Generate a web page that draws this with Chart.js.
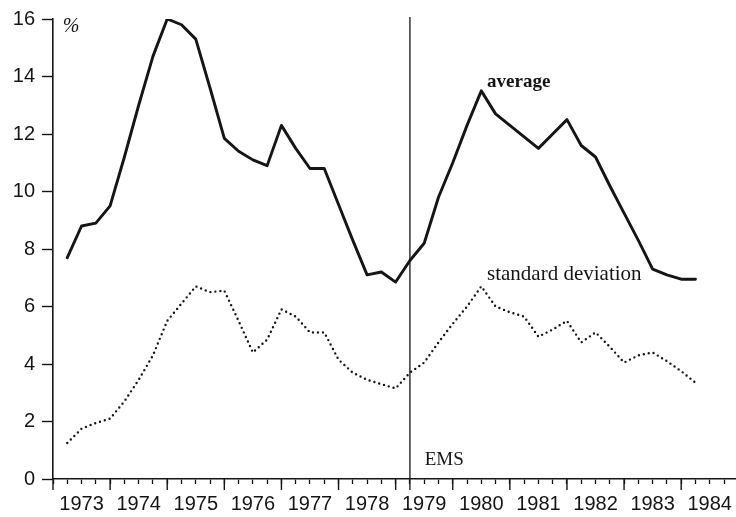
<!DOCTYPE html>
<html>
<head>
<meta charset="utf-8">
<script src="https://cdn.jsdelivr.net/npm/chart.js@4.4.1/dist/chart.umd.min.js"></script>
<style>
html,body{margin:0;padding:0;background:#fff}
#wrap{width:736px;height:517px;position:relative}
</style>
</head>
<body>
<div id="wrap"><canvas id="chart"></canvas></div>
<script>
// ═══ DATA: quarterly figures, 1973 Q1 .. 1984 Q1 (end of quarter) ═══
const firstYear=1973;
const yearLabels=['1973','1974','1975','1976','1977','1978','1979','1980','1981','1982','1983','1984'];
const averageVals=[
  7.7, 8.8, 8.9, 9.5,      // 1973
  11.2,13.0,14.7,16.0,     // 1974
  15.8,15.3,13.6,11.85,    // 1975
  11.4,11.1,10.9,12.3,     // 1976
  11.5,10.8,10.8,9.55,     // 1977
  8.3, 7.1, 7.2, 6.85,     // 1978
  7.6, 8.2, 9.8, 11.0,     // 1979
  12.3,13.5,12.7,12.3,     // 1980
  11.9,11.5,12.0,12.5,     // 1981
  11.6,11.2,10.2,9.25,     // 1982
  8.3, 7.3, 7.1, 6.95,     // 1983
  6.95                     // 1984
];
const stdDevVals=[
  1.25,1.75,1.95,2.1,
  2.7, 3.45,4.3, 5.5,
  6.1, 6.7, 6.5, 6.55,
  5.5, 4.4, 4.85,5.9,
  5.65,5.1, 5.1, 4.15,
  3.7, 3.45,3.3, 3.15,
  3.7, 4.05,4.75,5.4,
  6.0, 6.7, 6.0, 5.8,
  5.65,4.95,5.2, 5.5,
  4.75,5.1, 4.6, 4.05,
  4.3, 4.4, 4.1, 3.75,
  3.35
];
const yTicks=[0,2,4,6,8,10,12,14,16];
const emsDate=1979.25;   // start of the EMS, March 1979

// x position of each quarter = year + quarter/4 (end of quarter)
const quarterX=averageVals.map((_,i)=>firstYear+(i+1)/4);
const quarterTicks=[];
for(let q=0;q<yearLabels.length*4;q++) quarterTicks.push(firstYear+q/4);

const INK='#151515';
const notes=[
  {text:'%',x:1973.17,y:15.55,font:'italic 20px "Liberation Serif"'},
  {text:'average',x:1980.6,y:13.62,font:'bold 19px "Liberation Serif"'},
  {text:'standard deviation',x:1980.6,y:6.93,font:'21px "Liberation Serif"'},
  {text:'EMS',x:1979.51,y:0.47,font:'19px "Liberation Serif"'}
];

// ═══ extra drawing: long year ticks, EMS line, text notes ═══
const decor={
  id:'decor',
  afterDraw(chart){
    const {ctx,chartArea:a}=chart;
    const x=chart.scales.x,y=chart.scales.y;
    ctx.save();
    ctx.strokeStyle=INK;ctx.lineWidth=1.4;
    for(let yr=firstYear;yr<=firstYear+yearLabels.length;yr++){
      const px=x.getPixelForValue(yr);
      if(px>a.right+1) continue;
      ctx.beginPath();ctx.moveTo(px,a.bottom);ctx.lineTo(px,a.bottom+11);ctx.stroke();
    }
    const ex=x.getPixelForValue(emsDate);
    ctx.lineWidth=1.3;
    ctx.beginPath();ctx.moveTo(ex,y.getPixelForValue(16)-2);ctx.lineTo(ex,a.bottom+11);ctx.stroke();
    ctx.fillStyle=INK;ctx.textAlign='left';ctx.textBaseline='alphabetic';
    notes.forEach(n=>{ctx.font=n.font;ctx.fillText(n.text,x.getPixelForValue(n.x),y.getPixelForValue(n.y));});
    ctx.restore();
  }
};

new Chart(document.getElementById('chart').getContext('2d'),{
  type:'line',
  data:{
    datasets:[
      {label:'average',data:averageVals.map((v,i)=>({x:quarterX[i],y:v})),
       borderColor:INK,borderWidth:2.9,pointRadius:0,tension:0,borderJoinStyle:'round',borderCapStyle:'round'},
      {label:'standard deviation',data:stdDevVals.map((v,i)=>({x:quarterX[i],y:v})),
       borderColor:INK,borderWidth:2.4,borderDash:[0,5],borderCapStyle:'round',pointRadius:0,tension:0}
    ]
  },
  options:{
    responsive:true,maintainAspectRatio:false,animation:false,
    layout:{padding:{top:15,left:0,right:0,bottom:0}},
    plugins:{legend:{display:false},tooltip:{enabled:false}},
    scales:{
      x:{
        type:'linear',min:firstYear,max:1984.96,
        afterBuildTicks:s=>{s.ticks=quarterTicks.map(v=>({value:v}));},
        afterFit:s=>{s.height=38;},
        grid:{drawOnChartArea:false,drawTicks:true,tickLength:5,tickColor:INK,tickWidth:1.3},
        border:{color:INK,width:1.6},
        ticks:{autoSkip:false,maxRotation:0,padding:8,color:INK,font:{family:'"Liberation Sans"',size:20},
          callback:v=>{const i=Math.floor(v)-firstYear;return (v%1===0.5&&yearLabels[i])?yearLabels[i]:'';}}
      },
      y:{
        min:0,max:16,
        afterBuildTicks:s=>{s.ticks=yTicks.map(v=>({value:v}));},
        afterFit:s=>{s.width=53;},
        grid:{drawOnChartArea:false,drawTicks:true,tickLength:11,tickColor:INK,tickWidth:1.4},
        border:{color:INK,width:1.6},
        ticks:{padding:7,color:INK,font:{family:'"Liberation Sans"',size:20}}
      }
    }
  },
  plugins:[decor]
});
</script>
</body>
</html>
